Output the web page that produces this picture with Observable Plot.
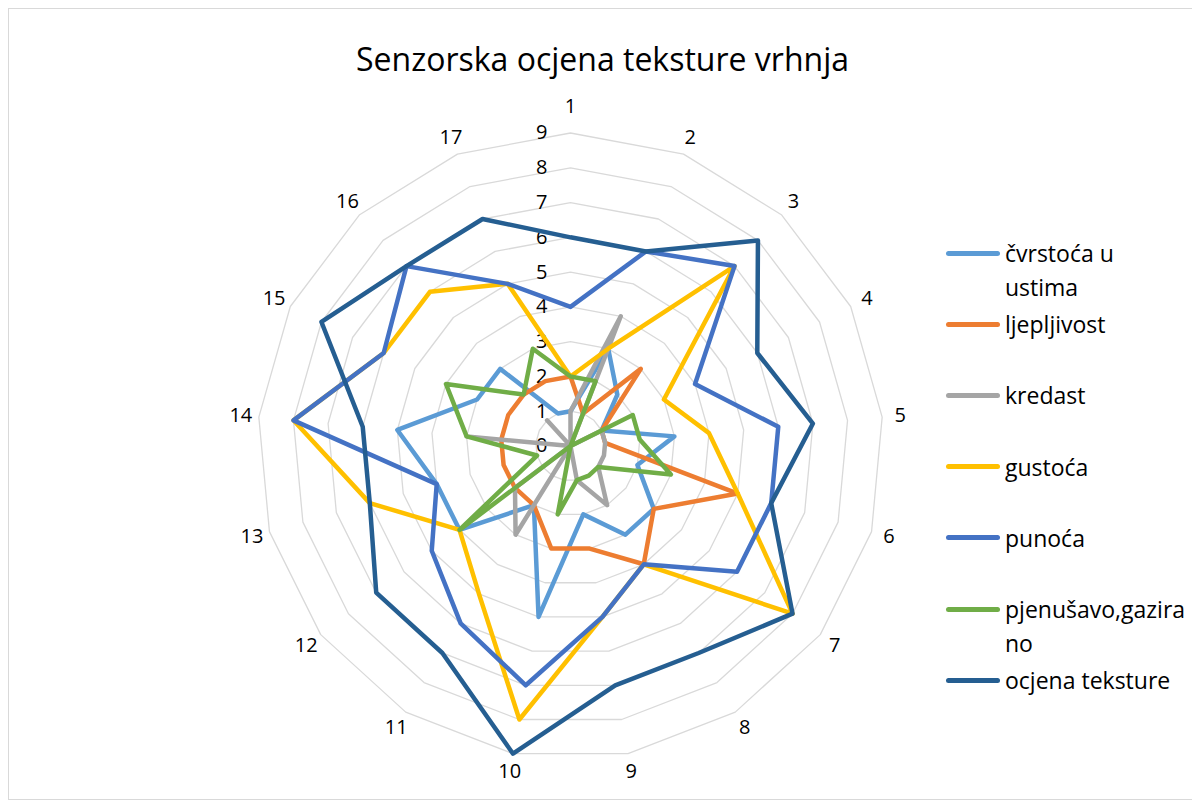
<!DOCTYPE html>
<html><head><meta charset="utf-8">
<script src="https://cdn.jsdelivr.net/npm/d3@7"></script>
<script src="https://cdn.jsdelivr.net/npm/@observablehq/plot@0.6"></script>
<style>
body{margin:0;background:#fff;}
#wrap{position:relative;width:1192px;height:805px;overflow:hidden;font-family:"Open Sans",sans-serif;background:#fff;}
#wrap svg{position:absolute;left:0;top:0;}
#frame{position:absolute;left:8px;top:8px;width:1200px;height:792px;border:1px solid #D9D9D9;box-sizing:border-box;}
#legend{position:absolute;left:946px;top:0;}
.sw{position:absolute;left:0;width:54px;height:5px;border-radius:3px;}
.lab{position:absolute;left:59px;font-size:23px;line-height:34px;white-space:nowrap;color:#000;}
</style></head><body><div id="wrap"><div id="frame"></div></div>
<script>
// ---- data ----
const title = "Senzorska ocjena teksture vrhnja";
const axisLabels = ["1","2","3","4","5","6","7","8","9","10","11","12","13","14","15","16","17"];
const tickValues = [0,1,2,3,4,5,6,7,8,9];
const seriesNames = ["čvrstoća u ustima","ljepljivost","kredast","gustoća","punoća","pjenušavo,gazirano","ocjena teksture"];
const legendLines = [["čvrstoća u","ustima"],["ljepljivost"],["kredast"],["gustoća"],["punoća"],["pjenušavo,gazira","no"],["ocjena teksture"]];
const seriesColors = ["#5B9BD5","#ED7D31","#A5A5A5","#FFC000","#4472C4","#70AD47","#255E91"];
const cvrstoca    = [1,3,2,1,3,2,3,3,2,5,2,4,4,5,3,3,1];
const ljepljivost = [2,1,3,1,1,5,3,4,3,3,2,2,2,2,2,2,2];
const kredast     = [1,4,0,1,1,1,1,2,1,0,3,2,0,3,0,1,0];
const gustoca     = [2,3,7,3,4,5,8,4,5,8,5,4,6,8,6,6,5];
const punoca      = [4,6,7,4,6,6,6,4,5,7,6,5,4,8,6,7,5];
const pjenusavo   = [2,2,0,2,2,3,1,1,1,2,0,4,1,3,4,2,3];
const ocjena      = [6,6,8,6,7,6,8,7,7,9,7,7,6,6,8,7,7];
const seriesValues = [cvrstoca,ljepljivost,kredast,gustoca,punoca,pjenusavo,ocjena];

// ---- layout ----
const W = 1192, H = 805, cx = 570, cy = 445.5, unit = 313/9;
const n = axisLabels.length;
const ang = i => i * 2 * Math.PI / n;
const px = (v,i) => v * Math.sin(ang(i));
const py = (v,i) => v * Math.cos(ang(i));

const rows = [];
seriesNames.forEach((s,k) => seriesValues[k].forEach((v,i) => rows.push({series:s, axis:axisLabels[i], value:v, x:px(v,i), y:py(v,i)})));
const rings = [];
tickValues.filter(t => t > 0).forEach(t => axisLabels.forEach((a,i) => rings.push({level:t, x:px(t,i), y:py(t,i)})));
const labR = 9.52;

const chart = Plot.plot({
  width: W, height: H, margin: 0,
  style: {fontFamily: '"Open Sans", sans-serif', background: "transparent"},
  x: {domain: [-cx/unit, (W-cx)/unit], range: [0, W], axis: null},
  y: {domain: [-(H-cy)/unit, cy/unit], range: [H, 0], axis: null},
  color: {domain: seriesNames, range: seriesColors},
  marks: [
    Plot.line(rings, {x:"x", y:"y", z:"level", stroke:"#D9D9D9", strokeWidth:1.3, curve:"linear-closed"}),
    Plot.text(tickValues, {x: 0, y: d => d, text: d => String(d), textAnchor: "end", dx: -23, fontSize: 20, fill: "#000"}),
    Plot.line(rows, {x:"x", y:"y", z:"series", stroke:"series", strokeWidth:4.5, curve:"linear-closed", strokeLinejoin:"round"}),
    Plot.text(axisLabels, {x: (d,i) => px(labR + (i === 0 ? 0.25 : 0),i), y: (d,i) => py(labR + (i === 0 ? 0.25 : 0),i), text: d => d, fontSize: 20, fill: "#000"}),
    Plot.text([title], {frameAnchor: "top", dy: 60, dx: 6, lineAnchor: "middle", fontSize: 32, fill: "#000"})
  ]
});
const wrap = document.getElementById("wrap");
wrap.appendChild(chart);

// legend
const leg = document.createElement("div");
leg.id = "legend";
legendLines.forEach((lines,i) => {
  const yc = 253 + i * 71.2;
  const sw = document.createElement("div");
  sw.className = "sw"; sw.style.top = (yc - 2.5) + "px"; sw.style.background = seriesColors[i];
  const lb = document.createElement("div");
  lb.className = "lab"; lb.style.top = (yc - 17) + "px"; lb.innerHTML = lines.join("<br>");
  leg.appendChild(sw); leg.appendChild(lb);
});
wrap.appendChild(leg);
</script></body></html>
